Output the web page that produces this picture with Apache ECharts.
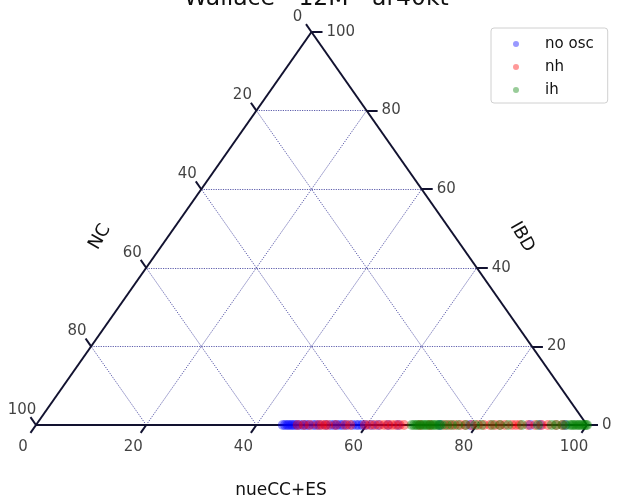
<!DOCTYPE html>
<html>
<head>
<meta charset="utf-8">
<script src="https://cdn.jsdelivr.net/npm/echarts@6/dist/echarts.min.js"></script>
<style>
  html, body { margin: 0; padding: 0; background: #fff; }
  #chart { width: 619px; height: 502px; }
</style>
</head>
<body>
<div id="chart"></div>
<script>
// Ternary axes: nueCC+ES (bottom), IBD (right), NC (left), all in percent
const tickValues = [0, 20, 40, 60, 80, 100];
const gridValues = [20, 40, 60, 80];

// Event fractions (nueCC+ES, in percent); every event sits on the IBD = 0 edge
const nueNoOsc = [44.8, 45.2, 45.6, 45.9, 46.3, 46.6, 47.0, 47.4, 47.9, 48.5, 49.0, 49.5,
  50.3, 50.8, 51.5, 52.6, 53.5, 54.1, 54.6, 55.2, 55.7, 56.4, 57.4, 58.1, 58.6, 59.2,
  59.9, 61.0, 62.1, 63.9, 65.7, 73.3, 78.8, 89.7, 91.5, 96.0];
const nueNh = [47.5, 48.6, 49.7, 51.2, 51.9, 52.5, 53.0, 54.4, 56.1, 57.0,
  59.7, 60.6, 61.5, 62.4, 63.2, 63.9, 64.6, 65.3, 66.0, 66.8, 69.7, 71.5, 74.2, 75.1,
  76.0, 77.0, 77.9, 79.1, 80.2, 81.3, 82.4, 83.3, 84.2, 85.1, 86.4, 87.1, 87.8, 89.3,
  90.6, 91.8, 92.9, 94.4, 95.6];
const nueIh = [68.2, 68.6, 69.0, 69.3, 69.7, 70.1, 70.4, 70.8, 71.1, 71.5, 71.9, 72.2,
  72.6, 73.0, 73.3, 73.7, 74.6, 75.5, 76.6, 78.0, 79.7, 80.9, 82.8, 84.2, 85.7, 88.2,
  91.1, 93.6, 94.4, 95.5, 96.2, 96.9, 97.3, 97.6, 98.0, 98.4, 98.7, 99.1, 99.5, 99.8, 100];
const ibdEvents = 0;

// (nue, ibd) -> planar coordinates of the triangle
function toXY(nue, ibd) { return [nue + ibd / 2, ibd]; }
function seg(a, b) { return { coords: [toXY(a[0], a[1]), toXY(b[0], b[1])] }; }

const edges = [
  seg([0, 0], [100, 0]),
  seg([100, 0], [0, 100]),
  seg([0, 100], [0, 0])
];

const grid = [];
gridValues.forEach(v => {
  grid.push(seg([0, v], [100 - v, v]));        // constant IBD
  grid.push(seg([v, 0], [v, 100 - v]));        // constant nueCC+ES
  grid.push(seg([100 - v, 0], [0, 100 - v]));  // constant NC
});

const tickLen = 2;
const ticks = [];
tickValues.forEach(v => {
  ticks.push(seg([v, 0], [v, -tickLen]));                          // bottom
  ticks.push(seg([100 - v, v], [100 - v + tickLen, v]));           // right
  ticks.push(seg([0, 100 - v], [-tickLen, 100 - v + tickLen]));    // left (NC = v)
});

const bottomLabels = tickValues.map(v => ({ value: toXY(v, 0).concat(v) }));
const rightLabels = tickValues.map(v => ({ value: toXY(100 - v, v).concat(v) }));
const leftLabels = tickValues.map(v => ({ value: toXY(0, 100 - v).concat(v) }));

const textColor = '#111';
const tickFont = { fontFamily: 'DejaVu Sans', fontSize: 15, color: textColor };

function labelSeries(data, offset, align) {
  return {
    type: 'scatter', data, symbolSize: 1, silent: true, clip: false,
    itemStyle: { color: 'transparent' },
    label: {
      show: true, position: 'inside', offset, align, verticalAlign: 'middle',
      formatter: p => String(p.value[2]), ...tickFont
    }
  };
}

function eventSeries(name, values, color) {
  return {
    name, type: 'scatter', clip: false, symbol: 'circle', symbolSize: 10,
    itemStyle: { color },
    data: values.map(v => toXY(v, ibdEvents))
  };
}

const chart = echarts.init(document.getElementById('chart'), null, { renderer: 'canvas' });
chart.setOption({
  animation: false,
  backgroundColor: '#fff',
  title: {
    text: 'Wallace - 12M - ar40kt', left: 179, top: -18,
    textStyle: { fontFamily: 'DejaVu Sans', fontSize: 23.5, fontWeight: 'normal', color: textColor }
  },
  grid: { left: 36, right: 32, top: 32, bottom: 77 },
  xAxis: { type: 'value', min: 0, max: 100, show: false },
  yAxis: { type: 'value', min: 0, max: 100, show: false },
  legend: {
    orient: 'vertical', left: 491, top: 28,
    padding: [8, 14, 5, 22], itemGap: 7,
    itemWidth: 6, itemHeight: 6, icon: 'circle',
    backgroundColor: '#fff', borderColor: '#d0d0d0', borderWidth: 1, borderRadius: 3,
    textStyle: { fontFamily: 'DejaVu Sans', fontSize: 15, color: textColor, lineHeight: 16,
      padding: [0, 0, 0, 21] },
    data: ['no osc', 'nh', 'ih']
  },
  graphic: [
    { type: 'text', x: 100, y: 237, rotation: Math.PI / 3,
      style: { text: 'NC', fontFamily: 'DejaVu Sans', fontSize: 18, fill: textColor, align: 'center', verticalAlign: 'middle' } },
    { type: 'text', x: 522, y: 237, rotation: -Math.PI / 3,
      style: { text: 'IBD', fontFamily: 'DejaVu Sans', fontSize: 18, fill: textColor, align: 'center', verticalAlign: 'middle' } },
    { type: 'text', x: 281, y: 491,
      style: { text: 'nueCC+ES', fontFamily: 'DejaVu Sans', fontSize: 17, fill: textColor, align: 'center', verticalAlign: 'middle' } }
  ],
  series: [
    { type: 'lines', coordinateSystem: 'cartesian2d', clip: false, silent: true, z: 1,
      lineStyle: { color: 'rgb(30,30,140)', width: 0.8, type: [1.2, 1.2], opacity: 0.9 }, data: grid },
    { type: 'lines', coordinateSystem: 'cartesian2d', clip: false, silent: true, z: 2,
      lineStyle: { color: '#121230', width: 2, opacity: 1 }, data: edges.concat(ticks) },
    labelSeries(bottomLabels, [-13, 22], 'center'),
    labelSeries(rightLabels, [15, 0], 'left'),
    labelSeries(leftLabels, [-14, -15], 'center'),
    eventSeries('no osc', nueNoOsc, 'rgba(0,0,255,0.5)'),
    eventSeries('nh', nueNh, 'rgba(255,0,0,0.5)'),
    eventSeries('ih', nueIh, 'rgba(0,128,0,0.5)')
  ]
});
</script>
</body>
</html>
